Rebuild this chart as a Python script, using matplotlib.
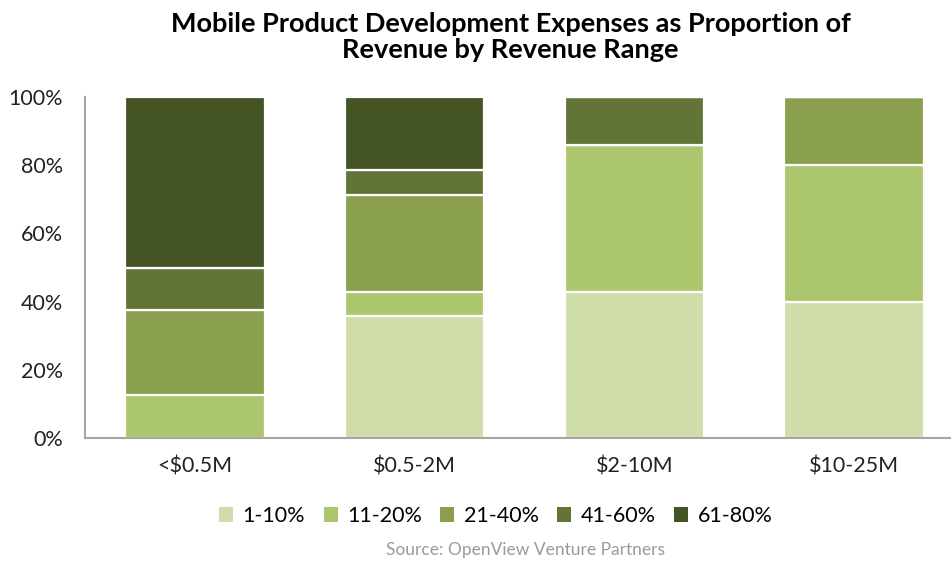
import numpy as np
import matplotlib
matplotlib.use("Agg")
import matplotlib.pyplot as plt
from matplotlib.ticker import PercentFormatter

plt.rcParams['font.family'] = ['Lato', 'DejaVu Sans']

# data (share of respondents, %)
categories = ["<$0.5M", "$0.5-2M", "$2-10M", "$10-25M"]
ranges = ["1-10%", "11-20%", "21-40%", "41-60%", "61-80%"]
pct_1_10 = [0.0, 35.7, 42.9, 40.0]
pct_11_20 = [12.5, 7.1, 42.9, 40.0]
pct_21_40 = [25.0, 28.6, 0.0, 20.0]
pct_41_60 = [12.5, 7.1, 14.2, 0.0]
pct_61_80 = [50.0, 21.5, 0.0, 0.0]
colors = ["#CFDDAB", "#ACC66E", "#8AA04E", "#627436", "#445425"]

series = [pct_1_10, pct_11_20, pct_21_40, pct_41_60, pct_61_80]

fig = plt.figure(figsize=(9.51, 5.61), dpi=100)
ax = fig.add_axes([85 / 951, 123 / 561, 879 / 951, 341 / 561])

x = np.arange(len(categories))
bottom = np.zeros(len(categories))
for vals, name, col in zip(series, ranges, colors):
    vals = np.array(vals)
    ax.bar(x, vals, 0.635, bottom=bottom, color=col, label=name,
           edgecolor="white", linewidth=1.6)
    bottom += vals

ax.set_xlim(-0.5, 3.5)
ax.set_ylim(0, 100)
ax.set_yticks(range(0, 101, 20))
ax.yaxis.set_major_formatter(PercentFormatter(decimals=0))
ax.set_xticks(x)
ax.set_xticklabels(categories)
ax.tick_params(length=0, labelsize=15.5, colors="#222222")
ax.tick_params(axis="y", pad=16)
ax.tick_params(axis="x", pad=13)
for s in ["top", "right"]:
    ax.spines[s].set_visible(False)
for s in ["left", "bottom"]:
    ax.spines[s].set_color("#A6A6A6")
    ax.spines[s].set_linewidth(1.5)

fig.text(0.537, 0.978, "Mobile Product Development Expenses as Proportion of\nRevenue by Revenue Range",
         ha="center", va="top", fontsize=19.5, fontweight="bold", linespacing=1.1)

leg = fig.legend(loc="center", bbox_to_anchor=(496 / 951, 1 - 516 / 561), ncol=5,
                 frameon=False, fontsize=15.5, handlelength=0.65, handleheight=0.65,
                 handletextpad=0.45, columnspacing=0.85)
for h in leg.legend_handles:
    h.set_edgecolor("none")

fig.text(525 / 951, 1 - 550 / 561, "Source: OpenView Venture Partners", ha="center",
         va="center", fontsize=12.5, color="#9A9A9A")

fig.savefig("out.png", dpi=100)
